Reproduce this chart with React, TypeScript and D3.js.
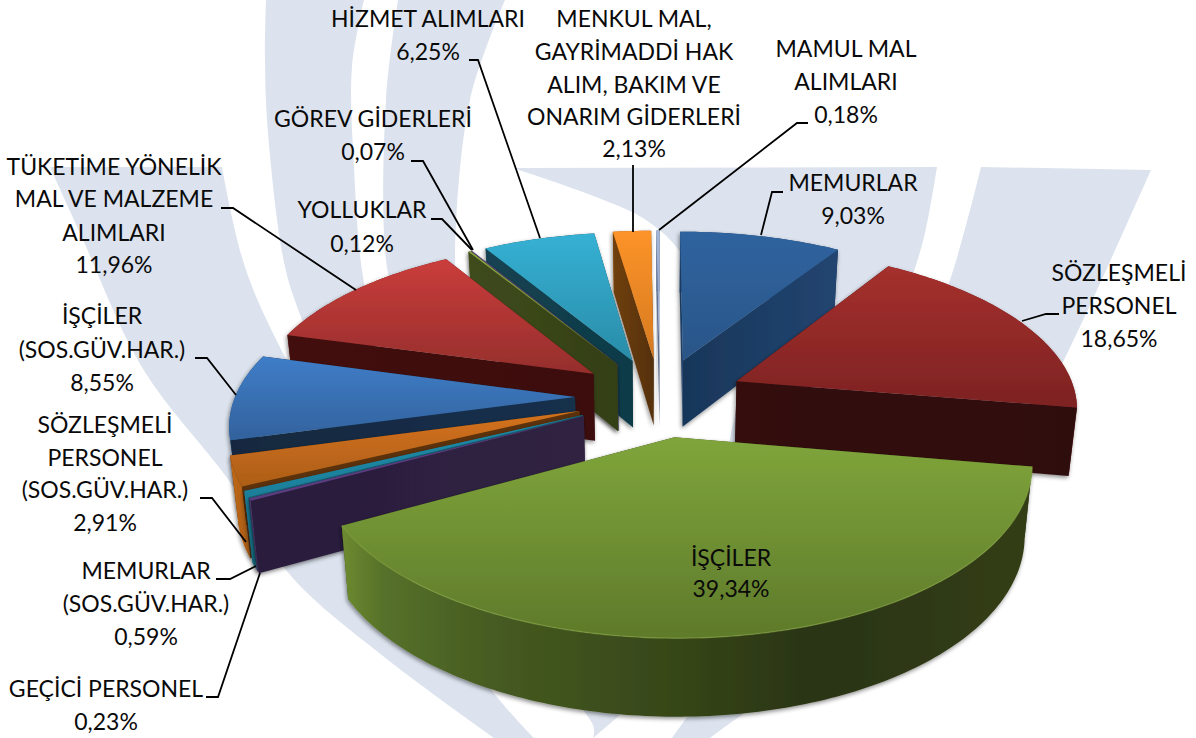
import React from "react";
import * as d3 from "d3";

// ---------- data ----------
const categories = [
  "MEMURLAR", "SÖZLEŞMELİ PERSONEL", "İŞÇİLER", "GEÇİCİ PERSONEL",
  "MEMURLAR (SOS.GÜV.HAR.)", "SÖZLEŞMELİ PERSONEL (SOS.GÜV.HAR.)", "İŞÇİLER (SOS.GÜV.HAR.)",
  "TÜKETİME YÖNELİK MAL VE MALZEME ALIMLARI", "YOLLUKLAR", "GÖREV GİDERLERİ", "HİZMET ALIMLARI",
  "MENKUL MAL, GAYRİMADDİ HAK ALIM, BAKIM VE ONARIM GİDERLERİ", "MAMUL MAL ALIMLARI",
];
const values = [9.03, 18.65, 39.34, 0.23, 0.59, 2.91, 8.55, 11.96, 0.12, 0.07, 6.25, 2.13, 0.18];
const valueLabels = ["9,03%", "18,65%", "39,34%", "0,23%", "0,59%", "2,91%", "8,55%", "11,96%", "0,12%", "0,07%", "6,25%", "2,13%", "0,18%"];

// ---------- styles ----------
const topColors: [string, string][] = [
  ["#2f639f", "#2a5688"], ["#a5302d", "#7d2222"], ["#80a53b", "#5e7a2b"], ["#5f4085", "#5a3c80"],
  ["#1f8dab", "#1c7f9a"], ["#d4721e", "#ad5e18"], ["#3f7dc8", "#32629c"], ["#ca3d3b", "#952e2c"],
  ["#8aa83e", "#7f9f3a"], ["#6a4c8c", "#5f4480"], ["#35b1d4", "#2a8ca8"], ["#fc9329", "#d67a20"], ["#a3b6d8", "#8ea2c6"],
];
const faceColors: [string, string][] = [
  ["#183659", "#224571"], ["#340e0e", "#2f0c0c"], ["#3a4a1a", "#2f3b14"], ["#2a1d3c", "#302242"],
  ["#175f74", "#175f74"], ["#5c3208", "#5c3208"], ["#12283f", "#14304c"], ["#431110", "#3d0f0f"],
  ["#3f4c1c", "#333f15"], ["#3a2a50", "#3a2a50"], ["#134352", "#103a47"], ["#70400f", "#55300c"], ["#66789a", "#5a6a8a"],
];
const wallStops: [number, string][][] = [
  [[0, "#21436f"], [1, "#1b3a60"]],
  [[0, "#7d2222"], [1, "#7a2020"]],
  [[0, "#6d8b30"], [0.06, "#56712a"], [0.22, "#465b21"], [0.5, "#354518"], [0.68, "#2a3412"], [1, "#323e15"]],
  [[0, "#4a3468"], [1, "#3a2a50"]],
  [[0, "#1d86a3"], [1, "#166478"]],
  [[0, "#c06a1a"], [1, "#a85a12"]],
  [[0, "#2a5688"], [1, "#1c3a5c"]],
  [[0, "#6e1c1b"], [1, "#5a1616"]],
  [[0, "#3f4c1c"], [1, "#333f15"]],
  [[0, "#3a2a50"], [1, "#3a2a50"]],
  [[0, "#1b5666"], [1, "#134352"]],
  [[0, "#b0641a"], [1, "#8a4e12"]],
  [[0, "#66789a"], [1, "#5a6a8a"]],
];
const BAND = "#dce3ee";

// ---------- label layout ----------
const labelLayout: { lines: string[]; cx: number; y: number[] }[] = [
  { lines: ["MEMURLAR", "9,03%"], cx: 853, y: [191, 224] },
  { lines: ["SÖZLEŞMELİ", "PERSONEL", "18,65%"], cx: 1119, y: [281, 314, 347] },
  { lines: ["İŞÇİLER", "39,34%"], cx: 731, y: [566, 597] },
  { lines: ["GEÇİCİ PERSONEL", "0,23%"], cx: 106, y: [697, 730] },
  { lines: ["MEMURLAR", "(SOS.GÜV.HAR.)", "0,59%"], cx: 146, y: [579, 612, 645] },
  { lines: ["SÖZLEŞMELİ", "PERSONEL", "(SOS.GÜV.HAR.)", "2,91%"], cx: 105, y: [433, 466, 498, 531] },
  { lines: ["İŞÇİLER", "(SOS.GÜV.HAR.)", "8,55%"], cx: 102, y: [324, 358, 391] },
  { lines: ["TÜKETİME YÖNELİK", "MAL VE MALZEME", "ALIMLARI", "11,96%"], cx: 114, y: [175, 207, 241, 273] },
  { lines: ["YOLLUKLAR", "0,12%"], cx: 362, y: [218, 252] },
  { lines: ["GÖREV GİDERLERİ", "0,07%"], cx: 373, y: [127, 160] },
  { lines: ["HİZMET ALIMLARI", "6,25%"], cx: 428, y: [27, 60] },
  { lines: ["MENKUL MAL,", "GAYRİMADDİ HAK", "ALIM, BAKIM VE", "ONARIM GİDERLERİ", "2,13%"], cx: 634, y: [27, 60, 93, 125, 157] },
  { lines: ["MAMUL MAL", "ALIMLARI", "0,18%"], cx: 846, y: [57, 90, 123] },
];
const leaders: [number, number][][] = [
  [[783, 192], [772, 192], [761, 235]],
  [[1059, 314], [1046, 314], [1022, 321]],
  [[206, 697], [218, 697], [260, 573]],
  [[216, 579], [230, 579], [256, 566]],
  [[200, 498], [212, 498], [246, 542]],
  [[195, 358], [207, 358], [236, 395]],
  [[221, 208], [233, 208], [356, 290]],
  [[431, 219], [442, 219], [472, 250]],
  [[411, 161], [423, 161], [473, 250]],
  [[469, 60], [478, 60], [540, 238]],
  [[633, 165], [633, 232]],
  [[808, 123], [797, 123], [659, 230]],
];

// ---------- watermark shapes: [left edge top-to-bottom, right edge bottom-to-top] ----------
const bands: [number, number][][][] = [
  [[[266, 0], [265, 60], [268, 133], [285, 267], [302, 320], [340, 420], [450, 570], [593, 725], [593, 738]],
   [[620, 715], [500, 560], [400, 420], [364, 283], [354, 167], [352, 67], [364, 0]]],
  [[[398, 0], [386, 100], [386, 260], [400, 320]], [[460, 320], [455, 260], [470, 100], [505, 0]]],
  [[[50, 167], [80, 233], [143, 369], [230, 482], [291, 576], [383, 656], [494, 738]],
   [[534, 738], [497, 697], [400, 560], [285, 357], [245, 267], [222, 167]]],
  [[[513, 168], [596, 197], [646, 220], [681, 253], [722, 340], [737, 395], [730, 438], [722, 480]],
   [[800, 480], [880, 360], [912, 277], [925, 233], [937, 167]]],
  [[[981, 167], [950, 280], [900, 400], [800, 560], [687, 717], [672, 738]],
   [[710, 738], [742, 715], [850, 650], [950, 560], [1000, 480], [1065, 358], [1151, 170]]],
];

// ---------- projection ----------
const CX = 660, CY = 397, S0 = 340, PERSP = 0.148, TILT = 0.464, H = 0.2, EXPLODE = 0.25, SHRINK = 0.02;
const project = (X: number, Z: number, h: number): [number, number] => {
  const s = S0 / (1 - PERSP * Z);
  const sb = s * (1 - SHRINK * h);
  return [CX + sb * X, CY + sb * Z * TILT + H * s * h];
};
const polar = (a: number, r: number): [number, number] => [Math.sin(a) * r, -Math.cos(a) * r];
const line = d3.line<[number, number]>();
const closed = (pts: [number, number][]) => line(pts) + "Z";
const area2 = (p: [number, number][]) =>
  d3.sum(p, (q, i) => { const n = p[(i + 1) % p.length]; return q[0] * n[1] - n[0] * q[1]; });

const arcs = d3.pie<number>().sort(null).startAngle(0).endAngle(2 * Math.PI)(values);

const slices = arcs.map((arc, i) => {
  const mid = (arc.startAngle + arc.endAngle) / 2;
  const [ox, oz] = polar(mid, EXPLODE);
  const steps = Math.max(2, Math.ceil((arc.endAngle - arc.startAngle) / (Math.PI / 180)));
  const angles = d3.range(steps + 1).map((k) => arc.startAngle + ((arc.endAngle - arc.startAngle) * k) / steps);
  const rim = (h: number) => angles.map((a) => { const [x, z] = polar(a, 1); return project(ox + x, oz + z, h); });
  const topRim = rim(0), botRim = rim(1);
  const apexT = project(ox, oz, 0), apexB = project(ox, oz, 1);
  const startFace: [number, number][] = [apexT, topRim[0], botRim[0], apexB];
  const endFace: [number, number][] = [apexT, topRim[steps], botRim[steps], apexB];
  return {
    i, oz,
    top: closed([apexT, ...topRim]),
    wall: closed([...topRim, ...botRim.slice().reverse()]),
    rimLine: line(topRim) as string,
    startFace, endFace,
    startVisible: area2(startFace) < 0,
    endVisible: area2(endFace) > 0,
  };
});
const ordered = slices.slice().sort((a, b) => d3.ascending(a.oz, b.oz));
const bandPath = d3.line<[number, number]>().curve(d3.curveCatmullRom.alpha(0.5));

export default function App() {
  return (
    <svg width={1196} height={738} viewBox="0 0 1196 738"
      style={{ position: "absolute", left: 0, top: 0, background: "#fff" }}
      fontFamily="Lato, Carlito, sans-serif">
      <defs>
        <filter id="sh" x="-10%" y="-10%" width="120%" height="125%">
          <feDropShadow dx="-1" dy="2" stdDeviation="2.2" floodColor="#000" floodOpacity="0.45" />
        </filter>
        {slices.map((s) => (
          <React.Fragment key={s.i}>
            <linearGradient id={`t${s.i}`} x1="0" y1="0" x2="0" y2="1">
              <stop offset="0" stopColor={topColors[s.i][0]} />
              <stop offset="1" stopColor={topColors[s.i][1]} />
            </linearGradient>
            <linearGradient id={`f${s.i}`} x1="0" y1="0" x2="1" y2="0">
              <stop offset="0" stopColor={faceColors[s.i][0]} />
              <stop offset="1" stopColor={faceColors[s.i][1]} />
            </linearGradient>
            <linearGradient id={`w${s.i}`} x1="0" y1="0" x2="1" y2="0">
              {wallStops[s.i].map(([o, c]) => <stop key={o} offset={o} stopColor={c} />)}
            </linearGradient>
          </React.Fragment>
        ))}
      </defs>

      <g fill={BAND}>
        {bands.map(([l, r], i) => (
          <path key={i} d={(bandPath(l) as string) + "L" + (bandPath(r) as string).slice(1) + "Z"} />
        ))}
      </g>

      {ordered.map((s) => (
        <g key={s.i} filter="url(#sh)" data-name={categories[s.i]} data-value={values[s.i]}>
          {!s.startVisible && <path d={closed(s.startFace)} fill={`url(#f${s.i})`} />}
          {!s.endVisible && <path d={closed(s.endFace)} fill={`url(#f${s.i})`} />}
          <path d={s.wall} fill={`url(#w${s.i})`} />
          {s.startVisible && <path d={closed(s.startFace)} fill={`url(#f${s.i})`} />}
          {s.endVisible && <path d={closed(s.endFace)} fill={`url(#f${s.i})`} />}
          <path d={s.top} fill={`url(#t${s.i})`} />
          {s.i === 2 && <path d={s.rimLine} fill="none" stroke="#88a845" strokeOpacity={0.55} strokeWidth={1.4} />}
        </g>
      ))}

      <g fill="none" stroke="#000" strokeWidth={1.8}>
        {leaders.map((p, i) => <path key={i} d={line(p) as string} />)}
      </g>

      <g fontSize={23} fill="#0a0a0a" textAnchor="middle">
        {labelLayout.map((lab, i) => lab.lines.map((t, j) => (
          <text key={`${i}-${j}`} x={lab.cx} y={lab.y[j]}>
            {t === valueLabels[i] ? valueLabels[i] : t}
          </text>
        )))}
      </g>
    </svg>
  );
}
